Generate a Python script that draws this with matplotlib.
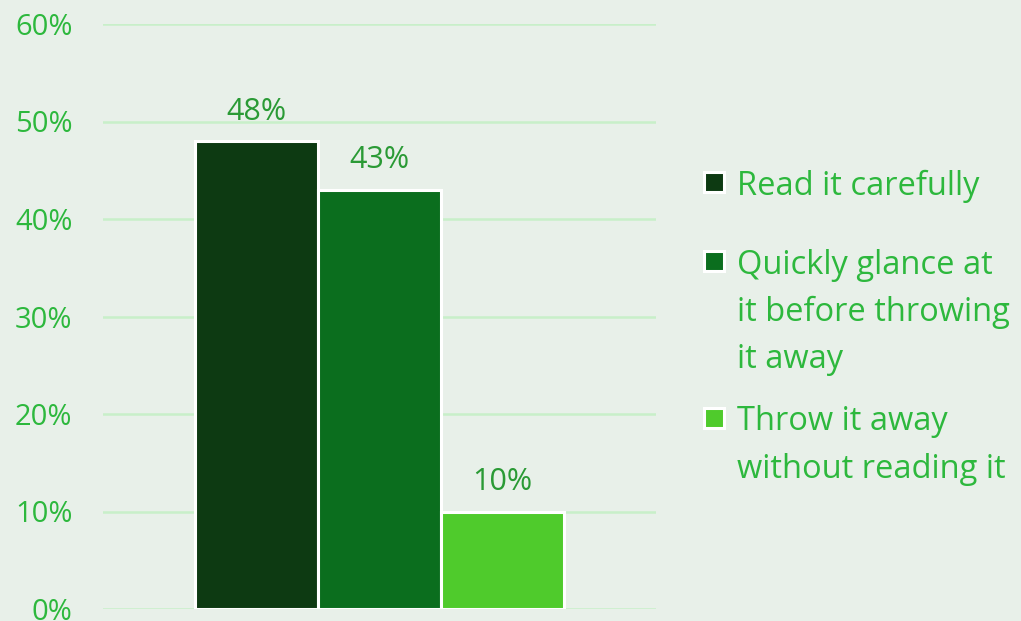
import matplotlib.pyplot as plt
from matplotlib.patches import Rectangle

# chart data
categories = ["Read it carefully",
              "Quickly glance at\nit before throwing\nit away",
              "Throw it away\nwithout reading it"]
shares = [0.48, 0.43, 0.10]
value_labels = ["48%", "43%", "10%"]
bar_colors = ["#0d3a12", "#0b6e1e", "#4fcb2c"]
y_ticks = [0, 0.1, 0.2, 0.3, 0.4, 0.5, 0.6]
y_tick_labels = ["0%", "10%", "20%", "30%", "40%", "50%", "60%"]

BG = "#e8f0e9"
TEXT = "#2db83d"
LABEL = "#2a9a35"
GRID = "#c8efc9"

W, H = 1021, 621
fig = plt.figure(figsize=(W / 100, H / 100), dpi=100, facecolor=BG)
ax = fig.add_axes([103 / W, 12 / H, (656 - 103) / W, (609 - 24) / H])
ax.set_facecolor(BG)

for i, (v, c, lab) in enumerate(zip(shares, bar_colors, value_labels)):
    ax.bar(i, v, width=1.0, color=c, edgecolor="white", linewidth=2.2, zorder=3)
    ax.text(i, v + 0.022, lab, ha="center", va="baseline", fontsize=22,
            color=LABEL, family="Open Sans", zorder=4)

ax.set_xlim(-1.248, 3.248)
ax.set_ylim(0, 0.6)
ax.set_yticks(y_ticks)
ax.set_yticklabels(y_tick_labels, family="Open Sans", fontsize=21, color=TEXT)
ax.set_xticks([])
ax.tick_params(axis="y", length=0, pad=22)
ax.grid(axis="y", color=GRID, linewidth=1.8, zorder=0)
for s in ax.spines.values():
    s.set_visible(False)

# legend drawn by hand
item_tops = [182, 261, 418]
line_gap = 47
for cat, c, y0 in zip(categories, bar_colors, item_tops):
    fig.patches.append(Rectangle((704 / W, 1 - (y0 + 10) / H), 20 / W, 20 / H,
                                 transform=fig.transFigure, facecolor=c,
                                 edgecolor="white", linewidth=2.2))
    for k, line in enumerate(cat.split("\n")):
        fig.text(737 / W, 1 - (y0 + k * line_gap) / H, line, ha="left",
                 va="center_baseline", fontsize=23.5, color=TEXT, family="Open Sans")

fig.savefig("out.png", dpi=100, facecolor=BG)
plt.close(fig)
